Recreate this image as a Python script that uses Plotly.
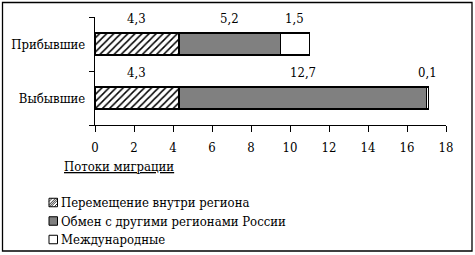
import plotly.graph_objects as go

categories = ["Выбывшие", "Прибывшие"]
series_names = ["Перемещение внутри региона", "Обмен с другими регионами России", "Международные"]
inside_region = [4.3, 4.3]
other_regions = [12.7, 5.2]
international = [0.1, 1.5]
x_ticks = [0, 2, 4, 6, 8, 10, 12, 14, 16, 18]
axis_title = "Потоки миграции"

W, H = 475, 255
L, R, T, B = 95, 29, 17, 130
PW, PH = W - L - R, H - T - B

def px(x):
    return (x - L) / PW

def py(y):
    return (H - B - y) / PH

FONT = "DejaVu Serif Condensed, DejaVu Serif"
fs = 13

fig = go.Figure()
series = [inside_region, other_regions, international]
styles = [
    dict(color="white", pattern=dict(shape="/", size=5, solidity=0.3, fgcolor="black", bgcolor="white", fillmode="replace")),
    dict(color="#808080"),
    dict(color="white"),
]
for name, vals, st in zip(series_names, series, styles):
    fig.add_trace(go.Bar(
        y=categories, x=vals, name=name, orientation="h", width=0.4,
        marker=dict(line=dict(color="black", width=1.5), **st),
        showlegend=False, hoverinfo="skip",
    ))

for ci, cat in enumerate(categories):
    start = 0.0
    for vals in series:
        v = vals[ci]
        fig.add_annotation(
            x=start + v / 2, y=cat, xref="x", yref="y",
            text=str(v).replace(".", ","), showarrow=False, yshift=26,
            font=dict(family=FONT, size=fs, color="black"),
        )
        start += v

fig.add_annotation(
    x=px(62), y=py(166), xref="paper", yref="paper", xanchor="left", yanchor="middle",
    text=axis_title, showarrow=False,
    font=dict(family=FONT, size=fs, color="black", lineposition="under"),
)

leg_y = [202.5, 221, 239.5]
sq = 8.5
for i, (name, yc) in enumerate(zip(series_names, leg_y)):
    fill = ["white", "#808080", "white"][i]
    fig.add_shape(type="rect", xref="paper", yref="paper",
                  x0=px(49), x1=px(49 + sq), y0=py(yc - sq / 2), y1=py(yc + sq / 2),
                  line=dict(color="black", width=1), fillcolor=fill, layer="above")
    if i == 0:
        for k in range(2):
            off = (k + 1) * sq / 2.6
            fig.add_shape(type="line", xref="paper", yref="paper",
                          x0=px(49), y0=py(yc - sq / 2 + off),
                          x1=px(49 + off), y1=py(yc - sq / 2),
                          line=dict(color="black", width=0.8))
            fig.add_shape(type="line", xref="paper", yref="paper",
                          x0=px(49 + sq - off), y0=py(yc + sq / 2),
                          x1=px(49 + sq), y1=py(yc + sq / 2 - off),
                          line=dict(color="black", width=0.8))
        fig.add_shape(type="line", xref="paper", yref="paper",
                      x0=px(49), y0=py(yc + sq / 2), x1=px(49 + sq), y1=py(yc - sq / 2),
                      line=dict(color="black", width=0.8))
    fig.add_annotation(
        x=px(59), y=py(yc), xref="paper", yref="paper", xanchor="left", yanchor="middle",
        text=name, showarrow=False, font=dict(family=FONT, size=fs, color="black"),
    )

fig.add_shape(type="rect", xref="paper", yref="paper",
              x0=px(2.5), x1=px(472), y0=py(251), y1=py(2.5),
              line=dict(color="black", width=1.3), fillcolor="rgba(0,0,0,0)")

fig.update_layout(
    width=W, height=H, margin=dict(l=L, r=R, t=T, b=B),
    barmode="stack", paper_bgcolor="white", plot_bgcolor="white",
    font=dict(family=FONT, size=fs, color="black"),
    xaxis=dict(range=[0, 18], tickvals=x_ticks, showgrid=False, zeroline=False,
               showline=True, linecolor="black", linewidth=1.3,
               ticks="outside", ticklen=6, tickcolor="black", tickwidth=1.3,
               ticklabelstandoff=4,
               tickfont=dict(family=FONT, size=fs, color="black")),
    yaxis=dict(categoryorder="array", categoryarray=categories, range=[-0.5, 1.5],
               showgrid=False, zeroline=False, showline=True, linecolor="black", linewidth=1.3,
               ticks="outside", tickson="boundaries", ticklen=5, tickcolor="black", tickwidth=1.3,
               ticklabelstandoff=6,
               tickfont=dict(family=FONT, size=fs, color="black")),
)

fig.write_html("out.html")
